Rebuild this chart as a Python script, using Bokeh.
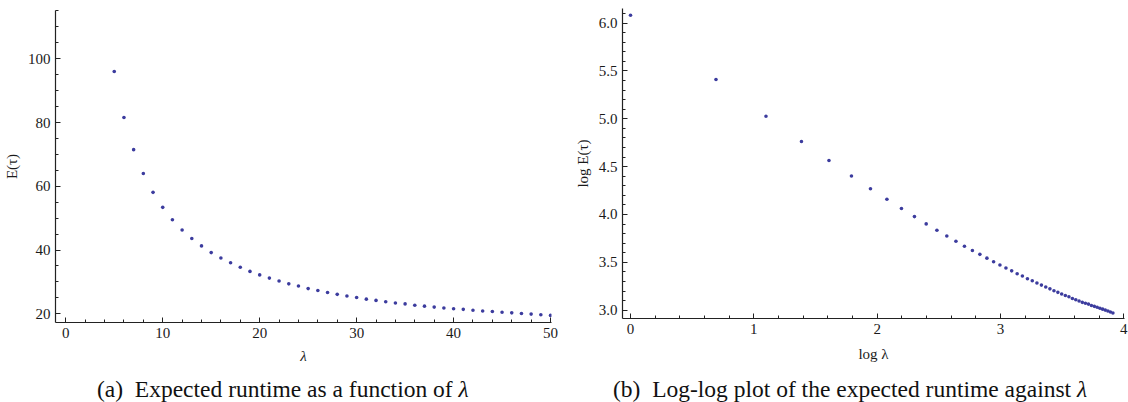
import numpy as np
from bokeh.plotting import figure
from bokeh.layouts import row, column
from bokeh.models import FixedTicker, Range1d, PrintfTickFormatter, Div, InlineStyleSheet
from bokeh.embed import file_html
from bokeh.resources import INLINE

# ---- data ----
lam = [1, 2, 3, 4, 5, 6, 7, 8, 9, 10, 11, 12, 13, 14, 15, 16, 17, 18, 19, 20,
       21, 22, 23, 24, 25, 26, 27, 28, 29, 30, 31, 32, 33, 34, 35, 36, 37, 38, 39, 40,
       41, 42, 43, 44, 45, 46, 47, 48, 49, 50]
expected_runtime = [438, 224, 152.5, 117, 96, 81.6, 71.5, 64, 58.1, 53.4,
                    49.5, 46.3, 43.6, 41.3, 39.2, 37.5, 36.0, 34.6, 33.3, 32.2,
                    31.2, 30.3, 29.4, 28.7, 27.9, 27.3, 26.7, 26.1, 25.6, 25.1,
                    24.6, 24.2, 23.8, 23.4, 23.1, 22.7, 22.4, 22.1, 21.8, 21.6,
                    21.4, 21.1, 20.9, 20.7, 20.5, 20.3, 20.1, 19.9, 19.7, 19.5]
first_lambda_left = 5  # left panel shows lambda >= 5

left_x_ticks = [0, 10, 20, 30, 40, 50]
left_x_minor = [2, 4, 6, 8, 12, 14, 16, 18, 22, 24, 26, 28, 32, 34, 36, 38, 42, 44, 46, 48]
left_y_ticks = [20, 40, 60, 80, 100]
left_y_minor = [25, 30, 35, 45, 50, 55, 65, 70, 75, 85, 90, 95, 105, 110, 115]
right_x_ticks = [0, 1, 2, 3, 4]
right_x_minor = [0.2, 0.4, 0.6, 0.8, 1.2, 1.4, 1.6, 1.8, 2.2, 2.4, 2.6, 2.8, 3.2, 3.4, 3.6, 3.8]
right_y_ticks = [3.0, 3.5, 4.0, 4.5, 5.0, 5.5, 6.0]
right_y_minor = [3.1, 3.2, 3.3, 3.4, 3.6, 3.7, 3.8, 3.9, 4.1, 4.2, 4.3, 4.4, 4.6, 4.7, 4.8, 4.9,
                 5.1, 5.2, 5.3, 5.4, 5.6, 5.7, 5.8, 5.9, 6.1]

caption_a = "(a)&nbsp; Expected runtime as a function of <i>λ</i>"
caption_b = "(b)&nbsp; Log-log plot of the expected runtime against <i>λ</i>"

FONT = "Liberation Serif"
TXT = "#1a1a1a"
AX = "#222222"
PT = "#3c3c9e"
H = 373
CAP_H = 30

CAPTION_CSS = InlineStyleSheet(css="""
:host, :host *, :host div, :host i, div, i, .bk-clearfix, .bk-clearfix * {
  font-family: "Liberation Serif", "DejaVu Serif", serif !important;
  font-size: 23.5px !important;
  color: #111111 !important;
}
""")


def style(p):
    p.grid.visible = False
    p.outline_line_color = None
    p.background_fill_color = "white"
    p.border_fill_color = "white"
    for ax in (p.xaxis[0], p.yaxis[0]):
        ax.axis_line_color = AX
        ax.axis_line_width = 1.2
        ax.major_tick_line_color = AX
        ax.minor_tick_line_color = AX
        ax.major_tick_in = 5
        ax.major_tick_out = 0
        ax.minor_tick_in = 3
        ax.minor_tick_out = 0
        ax.major_label_text_font = FONT
        ax.major_label_text_font_size = "15px"
        ax.major_label_text_color = TXT
        ax.major_label_standoff = 5
        ax.axis_label_text_font = FONT
        ax.axis_label_text_font_size = "15px"
        ax.axis_label_text_font_style = "normal"
        ax.axis_label_text_color = TXT


def caption_div(html, width, indent):
    inner = (f'<div style="font-family: \'{FONT}\', serif; font-size: 23.5px; color: #111111; '
             f'line-height: {CAP_H}px; margin: 0; padding: 0; padding-left: {indent}px; '
             f'white-space: nowrap;">{html}</div>')
    return Div(text=inner, width=width, height=CAP_H, margin=(0, 0, 0, 0),
               styles={"overflow": "hidden"}, stylesheets=[CAPTION_CSS])


# ---- left panel ----
i0 = lam.index(first_lambda_left)
p1 = figure(width=568, height=H, output_backend="svg", toolbar_location=None,
            x_range=Range1d(-1.06, 50.1), y_range=Range1d(17.27, 115.15),
            min_border_left=54, min_border_right=17, min_border_top=10, min_border_bottom=51)
p1.scatter(lam[i0:], expected_runtime[i0:], size=3.6, color=PT, line_width=0)
p1.xaxis.ticker = FixedTicker(ticks=left_x_ticks, minor_ticks=left_x_minor)
p1.yaxis.ticker = FixedTicker(ticks=left_y_ticks, minor_ticks=left_y_minor)
p1.xaxis.axis_label = "λ"
p1.yaxis.axis_label = "E(τ)"
style(p1)
p1.xaxis.axis_label_text_font_style = "italic"
p1.xaxis.axis_label_standoff = 7
p1.yaxis.axis_label_standoff = 5

# ---- right panel ----
log_lam = np.log(np.array(lam, dtype=float))
log_E = np.log(np.array(expected_runtime, dtype=float))
p2 = figure(width=560, height=H, output_backend="svg", toolbar_location=None,
            x_range=Range1d(-0.065, 4.006), y_range=Range1d(2.913, 6.153),
            min_border_left=54, min_border_right=4, min_border_top=8, min_border_bottom=55)
p2.scatter(log_lam, log_E, size=3.6, color=PT, line_width=0)
p2.xaxis.ticker = FixedTicker(ticks=right_x_ticks, minor_ticks=right_x_minor)
p2.yaxis.ticker = FixedTicker(ticks=right_y_ticks, minor_ticks=right_y_minor)
p2.yaxis.formatter = PrintfTickFormatter(format="%.1f")
p2.xaxis.axis_label = "log λ"
p2.yaxis.axis_label = "log E(τ)"
style(p2)
p2.xaxis.axis_label_standoff = 9
p2.yaxis.axis_label_standoff = 5

layout = row(column(p1, caption_div(caption_a, 568, 97)),
             column(p2, caption_div(caption_b, 560, 45)))
open("out.html", "w").write(file_html(layout, INLINE))
